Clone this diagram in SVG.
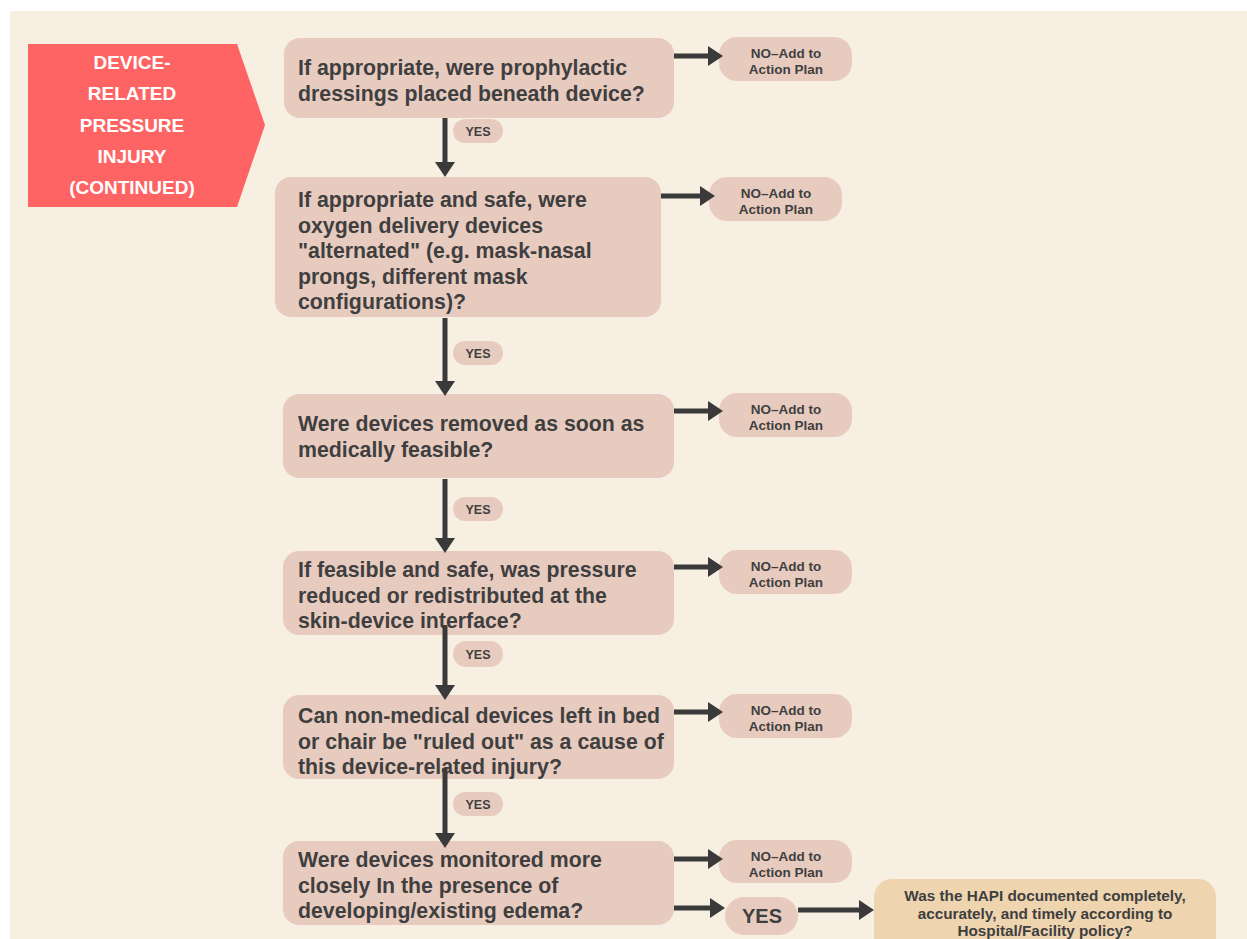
<svg xmlns="http://www.w3.org/2000/svg" width="1247" height="939" viewBox="0 0 1247 939">
<style>
.bg{fill:#F7EFE1}
.node{fill:#E8CBBF}
.q{font-family:"Liberation Sans",Arial,sans-serif;font-weight:bold;font-size:21.3px;fill:#3F3F3F}
.no{font-family:"Liberation Sans",Arial,sans-serif;font-weight:bold;font-size:13.5px;fill:#3F3F3F;text-anchor:middle}
.yes{font-family:"Liberation Sans",Arial,sans-serif;font-weight:bold;font-size:12.5px;fill:#3F3F3F;text-anchor:middle}
.yesbig{font-family:"Liberation Sans",Arial,sans-serif;font-weight:bold;font-size:20px;fill:#3F3F3F;text-anchor:middle}
.tag{font-family:"Liberation Sans",Arial,sans-serif;font-weight:bold;font-size:19px;fill:#FFFFFF;text-anchor:middle}
.fin{font-family:"Liberation Sans",Arial,sans-serif;font-weight:bold;font-size:15.3px;fill:#3F3F3F;text-anchor:middle}
.conn{stroke:#3A3A3A;stroke-width:5;fill:none;marker-end:url(#ah)}
</style>
<defs>
<marker id="ah" markerUnits="userSpaceOnUse" markerWidth="15" markerHeight="20" refX="3" refY="10" orient="auto" viewBox="0 0 15 20">
<path d="M0,0 L15,10 L0,20 Z" fill="#3A3A3A"/>
</marker>
</defs>
<rect x="0" y="0" width="1247" height="939" fill="#FFFFFF"/>
<rect class="bg" x="10" y="11" width="1237" height="928"/>

<g id="tag">
<polygon points="28,44 237,44 265,125 237,207 28,207" fill="#FF6464"/>
<text class="tag" x="132" y="69">DEVICE-</text>
<text class="tag" x="132" y="100">RELATED</text>
<text class="tag" x="132" y="132">PRESSURE</text>
<text class="tag" x="132" y="163">INJURY</text>
<text class="tag" x="132" y="194">(CONTINUED)</text>
</g>

<g id="q1">
<rect class="node" x="284" y="38" width="390" height="80" rx="16"/>
<text class="q" x="298" y="75">If appropriate, were prophylactic</text>
<text class="q" x="298" y="101">dressings placed beneath device?</text>
</g>
<g id="no1">
<rect class="node" x="719" y="37" width="133" height="44" rx="18"/>
<text class="no" x="786" y="58">NO–Add to</text>
<text class="no" x="786" y="74">Action Plan</text>
</g>
<g id="yes1">
<rect class="node" x="453" y="119" width="50" height="24" rx="12"/>
<text class="yes" x="478" y="135.5">YES</text>
</g>

<g id="q2">
<rect class="node" x="275" y="177" width="386" height="140" rx="16"/>
<text class="q" x="298" y="207">If appropriate and safe, were</text>
<text class="q" x="298" y="232.5">oxygen delivery devices</text>
<text class="q" x="298" y="258">"alternated" (e.g. mask-nasal</text>
<text class="q" x="298" y="283.5">prongs, different mask</text>
<text class="q" x="298" y="309">configurations)?</text>
</g>
<g id="no2">
<rect class="node" x="709" y="177" width="133" height="44" rx="18"/>
<text class="no" x="776" y="198">NO–Add to</text>
<text class="no" x="776" y="214">Action Plan</text>
</g>
<g id="yes2">
<rect class="node" x="453" y="341" width="50" height="24" rx="12"/>
<text class="yes" x="478" y="357.5">YES</text>
</g>

<g id="q3">
<rect class="node" x="283" y="394" width="391" height="84" rx="16"/>
<text class="q" x="298" y="431">Were devices removed as soon as</text>
<text class="q" x="298" y="457">medically feasible?</text>
</g>
<g id="no3">
<rect class="node" x="719" y="393" width="133" height="44" rx="18"/>
<text class="no" x="786" y="414">NO–Add to</text>
<text class="no" x="786" y="430">Action Plan</text>
</g>
<g id="yes3">
<rect class="node" x="453" y="497" width="50" height="24" rx="12"/>
<text class="yes" x="478" y="513.5">YES</text>
</g>

<g id="q4">
<rect class="node" x="283" y="551" width="391" height="84" rx="16"/>
<text class="q" x="298" y="577">If feasible and safe, was pressure</text>
<text class="q" x="298" y="603">reduced or redistributed at the</text>
<text class="q" x="298" y="628">skin-device interface?</text>
</g>
<g id="no4">
<rect class="node" x="719" y="550" width="133" height="44" rx="18"/>
<text class="no" x="786" y="571">NO–Add to</text>
<text class="no" x="786" y="587">Action Plan</text>
</g>
<g id="yes4">
<rect class="node" x="453" y="641" width="50" height="26" rx="13"/>
<text class="yes" x="478" y="658.5">YES</text>
</g>

<g id="q5">
<rect class="node" x="283" y="695" width="391" height="84" rx="16"/>
<text class="q" x="298" y="723">Can non-medical devices left in bed</text>
<text class="q" x="298" y="748.5">or chair be "ruled out" as a cause of</text>
<text class="q" x="298" y="774">this device-related injury?</text>
</g>
<g id="no5">
<rect class="node" x="719" y="694" width="133" height="44" rx="18"/>
<text class="no" x="786" y="715">NO–Add to</text>
<text class="no" x="786" y="731">Action Plan</text>
</g>
<g id="yes5">
<rect class="node" x="453" y="792" width="50" height="24" rx="12"/>
<text class="yes" x="478" y="808.5">YES</text>
</g>

<g id="q6">
<rect class="node" x="283" y="841" width="391" height="84" rx="16"/>
<text class="q" x="298" y="867">Were devices monitored more</text>
<text class="q" x="298" y="893">closely In the presence of</text>
<text class="q" x="298" y="918">developing/existing edema?</text>
</g>
<g id="no6">
<rect class="node" x="719" y="840" width="133" height="43" rx="18"/>
<text class="no" x="786" y="861">NO–Add to</text>
<text class="no" x="786" y="877">Action Plan</text>
</g>
<g id="yes6">
<rect class="node" x="725" y="897" width="73" height="38" rx="19"/>
<text class="yesbig" x="762" y="923">YES</text>
</g>

<g id="final">
<rect x="874" y="879" width="342" height="90" rx="18" fill="#EFD4B0"/>
<text class="fin" x="1045" y="901">Was the HAPI documented completely,</text>
<text class="fin" x="1045" y="919">accurately, and timely according to</text>
<text class="fin" x="1045" y="936">Hospital/Facility policy?</text>
</g>

<g id="connectors">
<path class="conn" d="M445,118 V165"/>
<path class="conn" d="M445,318 V384"/>
<path class="conn" d="M445,479 V541"/>
<path class="conn" d="M445,625 V688"/>
<path class="conn" d="M445,768 V836"/>
<path class="conn" d="M674,56 H711"/>
<path class="conn" d="M661,196 H703"/>
<path class="conn" d="M674,411 H711"/>
<path class="conn" d="M674,567 H711"/>
<path class="conn" d="M674,712 H711"/>
<path class="conn" d="M674,859 H711"/>
<path class="conn" d="M674,908 H713"/>
<path class="conn" d="M798,910 H862"/>
</g>
</svg>
